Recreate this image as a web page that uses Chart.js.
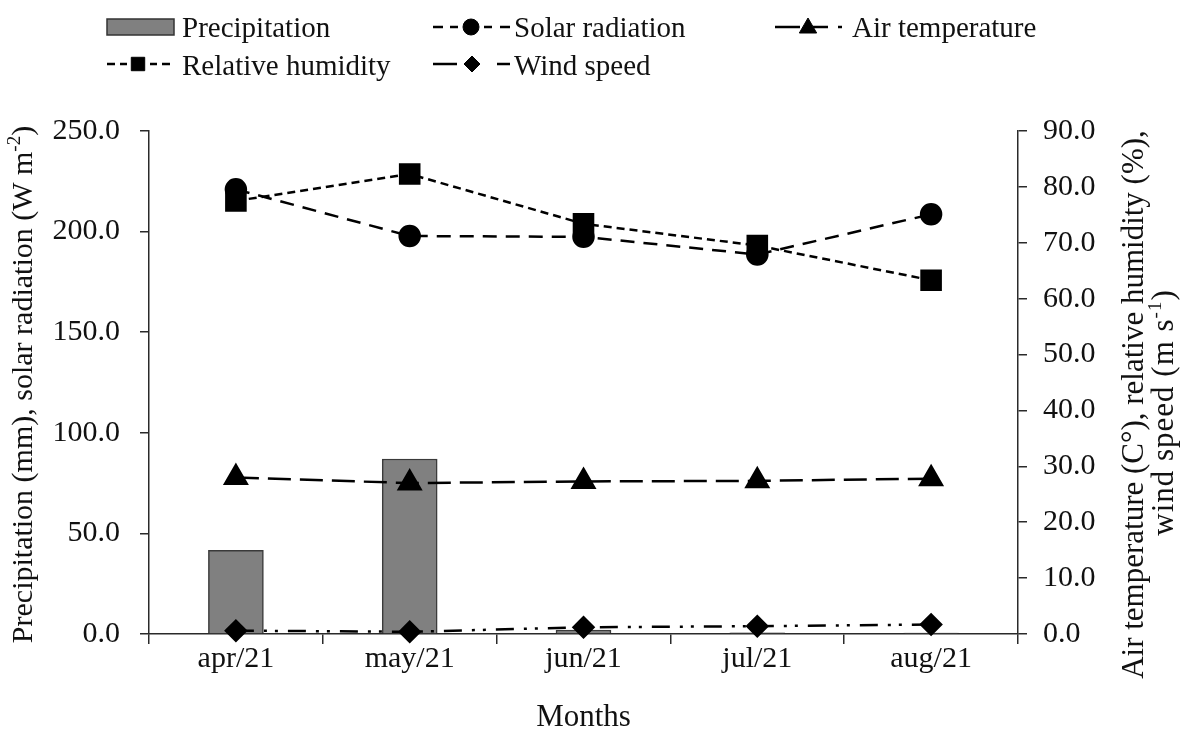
<!DOCTYPE html>
<html>
<head>
<meta charset="utf-8">
<title>Monthly weather conditions</title>
<script src="https://cdn.jsdelivr.net/npm/chart.js@4.4.1/dist/chart.umd.min.js"></script>
<style>
  html, body { margin: 0; padding: 0; background: #ffffff; }
  #wrap { width: 1184px; height: 729px; }
  canvas { display: block; }
</style>
</head>
<body>
<div id="wrap"><canvas id="weather" width="1184" height="729"></canvas></div>
<script>
// Monthly values
const months = ['apr/21', 'may/21', 'jun/21', 'jul/21', 'aug/21'];
const precipitation = [41.6, 87.0, 2.0, 0.6, 0.5];          // mm
const solarRadiation = [221.0, 197.8, 197.4, 188.6, 208.6];  // W m-2
const relativeHumidity = [77.5, 82.3, 73.4, 69.5, 63.3];     // %
const airTemperature = [28.0, 27.0, 27.3, 27.4, 27.8];       // C
const windSpeed = [0.6, 0.4, 1.2, 1.4, 1.7];                 // m s-1

// Axis tick values
const leftTicks = [0, 50, 100, 150, 200, 250];
const rightTicks = [0, 10, 20, 30, 40, 50, 60, 70, 80, 90];

const SERIF = '"Liberation Serif", "Times New Roman", serif';
const INK = '#111111';
const AXIS = '#2a2a2a';

// Draws a run of text where some parts are superscripts, centred on (cx, cy)
function drawRichText(ctx, parts, cx, cy, rotation, size, spacing) {
  const supSize = Math.round(size * 0.62);
  ctx.save();
  ctx.translate(cx, cy);
  ctx.rotate(rotation);
  ctx.fillStyle = INK;
  ctx.textBaseline = 'alphabetic';
  ctx.textAlign = 'left';
  if (spacing) ctx.letterSpacing = spacing + 'px';
  let total = 0;
  const widths = parts.map(p => {
    ctx.font = (p.sup ? supSize : size) + 'px ' + SERIF;
    const w = ctx.measureText(p.t).width;
    total += w;
    return w;
  });
  let x = -total / 2;
  const base = size * 0.32;
  parts.forEach((p, i) => {
    ctx.font = (p.sup ? supSize : size) + 'px ' + SERIF;
    ctx.fillText(p.t, x, p.sup ? base - size * 0.38 : base);
    x += widths[i];
  });
  ctx.restore();
}

function segments(ctx, list, y) {
  list.forEach(([a, b]) => {
    ctx.beginPath();
    ctx.moveTo(a, y);
    ctx.lineTo(b, y);
    ctx.stroke();
  });
}

function marker(ctx, style, radius, x, y) {
  ctx.fillStyle = '#000';
  ctx.strokeStyle = '#000';
  ctx.lineWidth = 1;
  Chart.helpers.drawPoint(ctx, { pointStyle: style, radius: radius, rotation: 0, borderWidth: 1 }, x, y);
}

// Legend in two rows above the plot, plus axis titles
const decorations = {
  id: 'decorations',
  afterDraw(chart) {
    const ctx = chart.ctx;
    const area = chart.chartArea;
    ctx.save();

    // legend
    const r1 = 27, r2 = 64;
    ctx.fillStyle = '#808080';
    ctx.fillRect(107, 19, 67, 16);
    ctx.strokeStyle = '#333';
    ctx.lineWidth = 1.5;
    ctx.strokeRect(107, 19, 67, 16);

    ctx.strokeStyle = '#000';
    ctx.lineWidth = 2.5;
    segments(ctx, [[433, 443], [450, 458], [484, 492], [500, 510]], r1);
    marker(ctx, 'circle', 8, 471, r1);

    ctx.strokeStyle = '#000';
    ctx.lineWidth = 2.5;
    segments(ctx, [[775, 800], [813, 828], [838, 842]], r1);
    marker(ctx, 'triangle', 10, 808, r1 + 1);

    ctx.strokeStyle = '#000';
    ctx.lineWidth = 2.5;
    segments(ctx, [[107, 115], [120, 127], [150, 157], [162, 170]], r2);
    marker(ctx, 'rect', 9.5, 138, r2);

    ctx.strokeStyle = '#000';
    ctx.lineWidth = 2.5;
    segments(ctx, [[433, 457], [497, 510]], r2);
    marker(ctx, 'rectRot', 8, 472, r2);

    ctx.fillStyle = INK;
    ctx.font = '29px ' + SERIF;
    ctx.textBaseline = 'alphabetic';
    ctx.textAlign = 'left';
    ctx.fillText('Precipitation', 182, 37);
    ctx.fillText('Solar radiation', 514, 37);
    ctx.fillText('Air temperature', 852, 37);
    ctx.fillText('Relative humidity', 182, 75);
    ctx.fillText('Wind speed', 514, 75);

    // axis titles
    const midY = (area.top + area.bottom) / 2;
    drawRichText(ctx, [
      { t: 'Precipitation (mm), solar radiation (W m' },
      { t: '-2', sup: true },
      { t: ')' }
    ], 22, midY + 2, -Math.PI / 2, 30);
    drawRichText(ctx, [
      { t: 'Air temperature (C°), relative humidity (%),' }
    ], 1133, midY + 22, -Math.PI / 2, 31);
    drawRichText(ctx, [
      { t: 'wind speed (m s' },
      { t: '-1', sup: true },
      { t: ')' }
    ], 1163, midY + 30, -Math.PI / 2, 31, 1);
    drawRichText(ctx, [{ t: 'Months' }], (area.left + area.right) / 2, 716, 0, 31);

    ctx.restore();
  }
};

const tickFont = { family: SERIF, size: 30, lineHeight: 1 };

new Chart(document.getElementById('weather'), {
  data: {
    labels: months,
    datasets: [
      {
        type: 'bar',
        label: 'Precipitation',
        data: precipitation,
        yAxisID: 'y',
        backgroundColor: '#808080',
        borderColor: '#3a3a3a',
        borderWidth: 1.5,
        barThickness: 55,
        order: 10
      },
      {
        type: 'line',
        label: 'Solar radiation',
        data: solarRadiation,
        yAxisID: 'y',
        borderColor: '#000',
        borderWidth: 2.5,
        borderDash: [14, 9],
        pointStyle: 'circle',
        pointRadius: 10,
        pointBackgroundColor: '#000',
        pointBorderColor: '#000',
        tension: 0,
        clip: false,
        order: 2
      },
      {
        type: 'line',
        label: 'Relative humidity',
        data: relativeHumidity,
        yAxisID: 'y1',
        borderColor: '#000',
        borderWidth: 2.5,
        borderDash: [8, 5],
        pointStyle: 'rect',
        pointRadius: 13.5,
        pointBackgroundColor: '#000',
        pointBorderColor: '#000',
        tension: 0,
        clip: false,
        order: 1
      },
      {
        type: 'line',
        label: 'Air temperature',
        data: airTemperature,
        yAxisID: 'y1',
        borderColor: '#000',
        borderWidth: 2.5,
        borderDash: [23, 9],
        pointStyle: 'triangle',
        pointRadius: 12.5,
        pointBackgroundColor: '#000',
        pointBorderColor: '#000',
        tension: 0,
        clip: false,
        order: 3
      },
      {
        type: 'line',
        label: 'Wind speed',
        data: windSpeed,
        yAxisID: 'y1',
        borderColor: '#000',
        borderWidth: 2.5,
        borderDash: [18, 10, 3, 8, 3, 10],
        pointStyle: 'rectRot',
        pointRadius: 10,
        pointBackgroundColor: '#000',
        pointBorderColor: '#000',
        tension: 0,
        clip: false,
        order: 4
      }
    ]
  },
  options: {
    responsive: false,
    animation: false,
    devicePixelRatio: 1,
    layout: { padding: { top: 131, left: 0, right: 0, bottom: 0 } },
    plugins: {
      legend: { display: false },
      tooltip: { enabled: false }
    },
    scales: {
      x: {
        type: 'category',
        offset: true,
        grid: { offset: true, drawOnChartArea: false, drawTicks: true, tickLength: 10, color: AXIS, lineWidth: 1.5 },
        border: { display: true, color: AXIS, width: 1.5 },
        ticks: { font: tickFont, color: INK, padding: 0, maxRotation: 0 },
        afterFit(scale) { scale.height = 95; }
      },
      y: {
        position: 'left',
        min: 0,
        max: 250,
        afterBuildTicks(scale) { scale.ticks = leftTicks.map(v => ({ value: v })); },
        grid: { drawOnChartArea: false, drawTicks: true, tickLength: 9, color: AXIS, lineWidth: 1.5 },
        border: { display: true, color: AXIS, width: 1.5 },
        ticks: { font: tickFont, color: INK, padding: 20, callback: v => Number(v).toFixed(1) },
        afterFit(scale) { scale.width = 149; }
      },
      y1: {
        position: 'right',
        min: 0,
        max: 90,
        afterBuildTicks(scale) { scale.ticks = rightTicks.map(v => ({ value: v })); },
        grid: { drawOnChartArea: false, drawTicks: true, tickLength: 9, color: AXIS, lineWidth: 1.5 },
        border: { display: true, color: AXIS, width: 1.5 },
        ticks: { font: tickFont, color: INK, padding: 16, callback: v => Number(v).toFixed(1) },
        afterFit(scale) { scale.width = 166; }
      }
    }
  },
  plugins: [decorations]
});
</script>
</body>
</html>
